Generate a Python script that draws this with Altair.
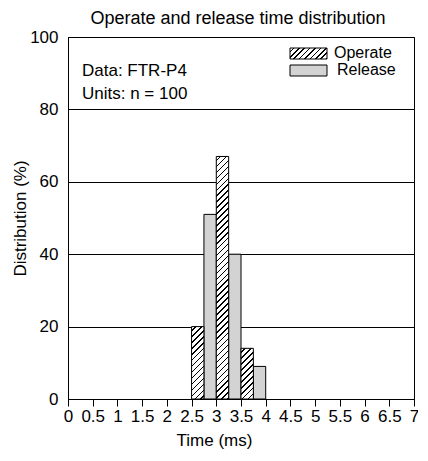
import math
import altair as alt
import pandas as pd

# ---- data ----
chart_title = "Operate and release time distribution"
x_title = "Time (ms)"
y_title = "Distribution (%)"
x_ticks = [0, 0.5, 1, 1.5, 2, 2.5, 3, 3.5, 4, 4.5, 5, 5.5, 6, 6.5, 7]
y_ticks = [0, 20, 40, 60, 80, 100]
bin_width = 0.25
operate_start = [2.5, 3.0, 3.5]
operate_pct = [20, 67, 14]
release_start = [2.75, 3.25, 3.75]
release_pct = [51, 40, 9]
series_names = ["Operate", "Release"]
notes = ["Data: FTR-P4", "Units: n = 100"]

# ---- layout ----
W, H = 346, 362
X_MAX, Y_MAX = 7, 100
FONT = "Liberation Sans"
RELEASE_FILL = "#d3d3d3"

bars = pd.DataFrame({
    "series": [series_names[0]] * len(operate_start) + [series_names[1]] * len(release_start),
    "start": operate_start + release_start,
    "pct": operate_pct + release_pct,
})
bars["end"] = bars["start"] + bin_width
bars["zero"] = 0


def hatch(w, h, spacing=4.2, line=1.1):
    """Linear-gradient fill that draws '/' hatching on a w x h px box."""
    s = (w + h) / (w * w + h * h)
    period = spacing * math.sqrt(2) / (w + h)
    frac = line * math.sqrt(2) / (w + h)
    stops = [{"offset": 0, "color": "white"}]
    t = period * 0.6
    while t + frac < 1:
        stops += [
            {"offset": round(t, 5), "color": "white"},
            {"offset": round(t, 5), "color": "black"},
            {"offset": round(t + frac, 5), "color": "black"},
            {"offset": round(t + frac, 5), "color": "white"},
        ]
        t += period
    stops.append({"offset": 1, "color": "white"})
    return {"gradient": "linear", "x1": 0, "y1": 0, "x2": s * w, "y2": s * h, "stops": stops}


x_enc = alt.X("start:Q", scale=alt.Scale(domain=[0, X_MAX], nice=False),
              axis=alt.Axis(values=x_ticks, format="~g", title=x_title, grid=False,
                            tickSize=7, labelPadding=2, titlePadding=8, titleX=146,
                            labelFlush=False))
y_enc = alt.Y("pct:Q", scale=alt.Scale(domain=[0, Y_MAX], nice=False),
              axis=alt.Axis(values=y_ticks, title=y_title, grid=True, ticks=False,
                            tickSize=0, labelPadding=10, titlePadding=0))

layers = []
release_layer = alt.Chart(bars).transform_filter(
    alt.datum.series == series_names[1]
).mark_rect(fill=RELEASE_FILL, stroke="black", strokeWidth=1).encode(
    x=x_enc, x2="end:Q", y=y_enc, y2="zero:Q"
)
layers.append(release_layer)

bar_px_w = bin_width * W / X_MAX
for s, v in zip(operate_start, operate_pct):
    layers.append(
        alt.Chart(bars).transform_filter(
            (alt.datum.series == series_names[0]) & (alt.datum.start == s)
        ).mark_rect(fill=hatch(bar_px_w, v * H / Y_MAX), stroke="black", strokeWidth=1).encode(
            x=x_enc, x2="end:Q", y=y_enc, y2="zero:Q"
        )
    )

# legend (drawn in pixel positions of the plot area)
sw_x, sw_w, sw_h = 222, 37, 11
legend_rows = [(series_names[0], 11, hatch(sw_w, sw_h, spacing=3.8)), (series_names[1], 28, RELEASE_FILL)]
for name, top, fill in legend_rows:
    d = pd.DataFrame({"label": [name]})
    layers.append(
        alt.Chart(d).mark_rect(fill=fill, stroke="black", strokeWidth=1).encode(
            x=alt.value(sw_x), x2=alt.value(sw_x + sw_w),
            y=alt.value(top), y2=alt.value(top + sw_h)
        )
    )
    layers.append(
        alt.Chart(d).mark_text(align="left", baseline="middle", font=FONT, fontSize=16,
                               color="black").encode(
            x=alt.value(sw_x + sw_w + 7 + (3 if name == series_names[1] else 0)),
            y=alt.value(top + sw_h / 2 - 1),
            text="label:N"
        )
    )

# annotation text
for i, line in enumerate(notes):
    layers.append(
        alt.Chart(pd.DataFrame({"line": [line]})).mark_text(
            align="left", baseline="alphabetic", font=FONT, fontSize=17, color="black"
        ).encode(
            x=alt.value(14),
            y=alt.value(39 + 23 * i),
            text="line:N"
        )
    )

chart = alt.layer(*layers).properties(
    width=W, height=H,
    title=alt.TitleParams(chart_title, font=FONT, fontSize=18, fontWeight="normal",
                          color="black", anchor="middle", offset=0, dx=-3),
    autosize=alt.AutoSizeParams(type="none"),
    padding={"left": 60, "top": 29, "right": 4, "bottom": 50},
).configure_view(
    stroke="black", strokeWidth=1
).configure_axis(
    labelFont=FONT, titleFont=FONT, labelFontSize=17, titleFontSize=17,
    titleFontWeight="normal", labelColor="black", titleColor="black",
    domainColor="black", tickColor="black", gridColor="black", gridOpacity=1,
    domainWidth=1, gridWidth=1
)

chart.save("out.html", embed_options={"renderer": "svg", "actions": False})
